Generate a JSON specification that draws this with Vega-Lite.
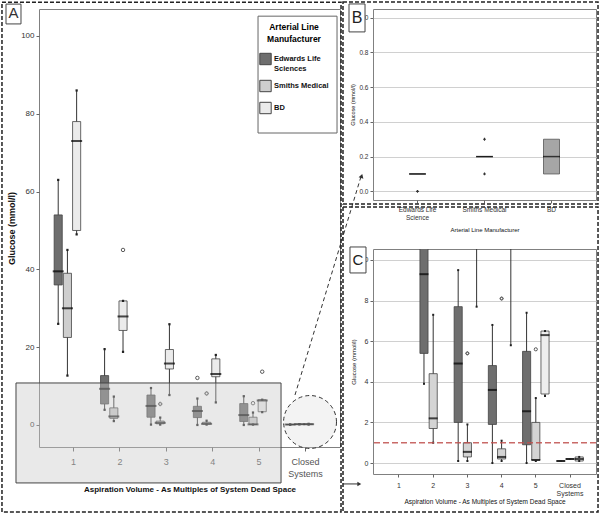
{
  "$schema": "https://vega.github.io/schema/vega-lite/v6.json",
  "padding": 0,
  "bounds": "flush",
  "spacing": 33,
  "config": {
    "font": "Liberation Sans",
    "view": {"stroke": "#808080"},
    "axis": {"gridColor": "#d0d0d0", "domain": false, "tickColor": "#666", "labelColor": "#333", "titleColor": "#111", "tickSize": 3},
    "legend": {"zindex": 1}
  },
  "resolve": {"scale": {"fill": "independent", "shape": "independent"}, "legend": {"fill": "independent"}},
  "datasets": {
    "boxes": [
      {"vol": "1", "mfr": "Edwards Life Sciences", "lo": 26, "q1": 36, "med": 39.5, "q3": 54, "hi": 63},
      {"vol": "1", "mfr": "Smiths Medical", "lo": 12.7, "q1": 22.5, "med": 30, "q3": 39, "hi": 45},
      {"vol": "1", "mfr": "BD", "lo": 49, "q1": 50, "med": 73, "q3": 78, "hi": 86},
      {"vol": "2", "mfr": "Edwards Life Sciences", "lo": 3.9, "q1": 5.4, "med": 9.3, "q3": 12.7, "hi": 19.5},
      {"vol": "2", "mfr": "Smiths Medical", "lo": 1.0, "q1": 1.7, "med": 2.2, "q3": 4.4, "hi": 7.3},
      {"vol": "2", "mfr": "BD", "lo": 18.8, "q1": 24.3, "med": 27.9, "q3": 31.9, "hi": 31.9},
      {"vol": "3", "mfr": "Edwards Life Sciences", "lo": 0.1, "q1": 2.0, "med": 4.9, "q3": 7.7, "hi": 9.5},
      {"vol": "3", "mfr": "Smiths Medical", "lo": 0.1, "q1": 0.3, "med": 0.55, "q3": 1.0, "hi": 1.9},
      {"vol": "3", "mfr": "BD", "lo": 7.7, "q1": 14.4, "med": 15.8, "q3": 19.4, "hi": 25.9},
      {"vol": "4", "mfr": "Edwards Life Sciences", "lo": 0.0, "q1": 1.9, "med": 3.6, "q3": 4.8, "hi": 6.8},
      {"vol": "4", "mfr": "Smiths Medical", "lo": 0.1, "q1": 0.2, "med": 0.3, "q3": 0.7, "hi": 1.1},
      {"vol": "4", "mfr": "BD", "lo": 5.8, "q1": 12.4, "med": 13.1, "q3": 17.0, "hi": 18.0},
      {"vol": "5", "mfr": "Edwards Life Sciences", "lo": 0.0, "q1": 0.9, "med": 2.55, "q3": 5.5, "hi": 7.4},
      {"vol": "5", "mfr": "Smiths Medical", "lo": 0.1, "q1": 0.15, "med": 0.15, "q3": 2.0, "hi": 3.2},
      {"vol": "5", "mfr": "BD", "lo": 3.3, "q1": 3.4, "med": 6.3, "q3": 6.5, "hi": 6.5},
      {"vol": "Closed Systems", "mfr": "Edwards Life Sciences", "lo": 0.1, "q1": 0.1, "med": 0.1, "q3": 0.1, "hi": 0.1},
      {"vol": "Closed Systems", "mfr": "Smiths Medical", "lo": 0.2, "q1": 0.2, "med": 0.2, "q3": 0.2, "hi": 0.2},
      {"vol": "Closed Systems", "mfr": "BD", "lo": 0.1, "q1": 0.1, "med": 0.2, "q3": 0.3, "hi": 0.3}
    ],
    "outliers": [
      {"vol": "2", "mfr": "BD", "v": 45, "kind": "outlier"},
      {"vol": "3", "mfr": "Smiths Medical", "v": 5.4, "kind": "extreme"},
      {"vol": "4", "mfr": "Edwards Life Sciences", "v": 12.1, "kind": "outlier"},
      {"vol": "4", "mfr": "Smiths Medical", "v": 8.1, "kind": "extreme"},
      {"vol": "5", "mfr": "Smiths Medical", "v": 5.6, "kind": "outlier"},
      {"vol": "5", "mfr": "BD", "v": 13.7, "kind": "outlier"}
    ],
    "closedB": [
      {"mfr": "Edwards Life Science", "q1": 0.1, "med": 0.1, "q3": 0.1},
      {"mfr": "Smiths Medical", "q1": 0.2, "med": 0.2, "q3": 0.2},
      {"mfr": "BD", "q1": 0.1, "med": 0.2, "q3": 0.3}
    ],
    "outB": [
      {"mfr": "Edwards Life Science", "v": 0.0},
      {"mfr": "Smiths Medical", "v": 0.3},
      {"mfr": "Smiths Medical", "v": 0.1}
    ]
  },
  "hconcat": [
    {
      "width": 301,
      "height": 438,
      "resolve": {"scale": {"x": "independent"}, "axis": {"x": "independent", "y": "independent"}},
      "layer": [
        {
          "data": {"values": [{}]},
          "layer": [
            {
              "mark": {"type": "rect", "fill": "#ffffff", "stroke": "#666666", "strokeWidth": 1},
              "encoding": {
                "x": {"datum": 4.977, "type": "quantitative", "scale": {"domain": [0.256, 6.744], "nice": false, "zero": false}, "axis": null},
                "x2": {"datum": 6.68},
                "y": {"datum": 105.1, "type": "quantitative", "scale": {"domain": [-5.66, 106.94], "nice": false, "zero": false}, "axis": null},
                "y2": {"datum": 75.06}
              }
            }
          ]
        },
        {
          "data": {"name": "boxes"},
          "encoding": {
            "x": {
              "field": "vol", "type": "nominal",
              "scale": {"domain": ["1", "2", "3", "4", "5", "Closed Systems"], "paddingInner": 0, "paddingOuter": 0.244},
              "title": "Aspiration Volume - As Multiples of System Dead Space",
              "axis": {"labelAngle": 0, "labelFontSize": 9, "labelColor": "#555", "labelPadding": 6, "titleFontSize": 8, "titleFontWeight": "bold", "titlePadding": 7, "tickSize": 4, "labelExpr": "datum.label == 'Closed Systems' ? ['Closed', 'Systems'] : datum.label", "labelLineHeight": 12}
            },
            "xOffset": {"field": "mfr", "type": "nominal", "scale": {"domain": ["Edwards Life Sciences", "Smiths Medical", "BD"], "paddingInner": 0.12, "paddingOuter": 0.416}}
          },
          "layer": [
            {
              "mark": {"type": "rule", "color": "#333333", "strokeWidth": 1},
              "encoding": {
                "y": {"field": "lo", "type": "quantitative", "title": "Glucose (mmol/l)", "scale": {"domain": [-5.66, 106.94], "nice": false, "zero": false},
                  "axis": {"values": [0, 20, 40, 60, 80, 100], "tickCount": 12, "labelOverlap": false, "labelFontSize": 8, "titleFontSize": 9, "titleFontWeight": "bold", "titlePadding": 4, "labelPadding": 2}},
                "y2": {"field": "hi"}
              }
            },
            {
              "mark": {"type": "bar", "stroke": "#444444", "strokeWidth": 0.8},
              "encoding": {
                "y": {"field": "q1", "type": "quantitative", "title": "Glucose (mmol/l)"},
                "y2": {"field": "q3"},
                "fill": {
                  "field": "mfr", "type": "nominal",
                  "scale": {"domain": ["Edwards Life Sciences", "Smiths Medical", "BD"], "range": ["#6e6e6e", "#cecece", "#ebebeb"]},
                  "legend": {"orient": "none", "legendX": 220, "legendY": 14, "title": ["Arterial Line", "Manufacturer"], "titleFontSize": 8.5, "titleFontWeight": "bold", "titleAnchor": "middle", "titleAlign": "center", "titlePadding": 9, "titleLineHeight": 12, "labelFontSize": 7.5, "labelFontWeight": "bold", "labelColor": "#111", "symbolType": "square", "symbolSize": 130, "symbolStrokeColor": "#444", "symbolStrokeWidth": 1, "rowPadding": 5, "padding": 0, "labelOffset": 2, "labelLimit": 100, "labelExpr": "datum.label == 'Edwards Life Sciences' ? ['Edwards Life', 'Sciences'] : datum.label"}
                }
              }
            },
            {
              "mark": {"type": "tick", "color": "#000000", "thickness": 2, "size": 11},
              "encoding": {"y": {"field": "med", "type": "quantitative", "title": "Glucose (mmol/l)"}}
            },
            {
              "mark": {"type": "point", "shape": "square", "filled": true, "size": 5, "color": "#222222", "opacity": 1},
              "encoding": {"y": {"field": "lo", "type": "quantitative", "title": "Glucose (mmol/l)"}}
            },
            {
              "mark": {"type": "point", "shape": "square", "filled": true, "size": 5, "color": "#222222", "opacity": 1},
              "encoding": {"y": {"field": "hi", "type": "quantitative", "title": "Glucose (mmol/l)"}}
            },
            {
              "data": {"name": "outliers"},
              "mark": {"type": "point", "size": 12, "strokeWidth": 0.8, "color": "#333333", "opacity": 1},
              "encoding": {
                "y": {"field": "v", "type": "quantitative", "title": "Glucose (mmol/l)"},
                "shape": {"field": "kind", "type": "nominal", "scale": {"domain": ["outlier", "extreme"], "range": ["circle", "cross"]}, "legend": null}
              }
            }
          ]
        },
        {
          "data": {"values": [{}]},
          "layer": [
            {
              "mark": {"type": "rect", "fill": "#c8c8c8", "fillOpacity": 0.4, "stroke": "#444444", "strokeWidth": 1},
              "encoding": {
                "x": {"datum": -0.24, "type": "quantitative", "scale": {"domain": [0.256, 6.744], "nice": false, "zero": false}, "axis": null},
                "x2": {"datum": 5.473},
                "y": {"datum": 10.8, "type": "quantitative", "scale": {"domain": [-5.66, 106.94], "nice": false, "zero": false}, "axis": null},
                "y2": {"datum": -14.9}
              }
            },
            {
              "mark": {"type": "point", "shape": "circle", "size": 2800, "fill": "#d8d8d8", "fillOpacity": 0.3, "stroke": "#333333", "strokeWidth": 1, "strokeDash": [4, 3], "opacity": 1},
              "encoding": {
                "x": {"datum": 6.098, "type": "quantitative", "axis": null},
                "y": {"datum": 0.77, "type": "quantitative", "axis": null}
              }
            },
            {
              "mark": {"type": "rule", "color": "#333333", "strokeWidth": 1, "strokeDash": [4, 3]},
              "encoding": {
                "x": {"datum": 5.774, "type": "quantitative", "axis": null},
                "x2": {"datum": 7.2},
                "y": {"datum": 7.71, "type": "quantitative", "axis": null},
                "y2": {"datum": 64.0}
              }
            },
            {
              "mark": {"type": "point", "shape": "triangle-up", "size": 25, "filled": true, "color": "#333333", "angle": 17, "opacity": 1},
              "encoding": {
                "x": {"datum": 7.21, "type": "quantitative", "axis": null},
                "y": {"datum": 64.0, "type": "quantitative", "axis": null}
              }
            },
            {
              "mark": {"type": "rect", "fill": null, "stroke": "#222222", "strokeWidth": 1.5, "strokeDash": [4, 2]},
              "encoding": {
                "x": {"datum": -0.542, "type": "quantitative", "axis": null},
                "x2": {"datum": 6.766},
                "y": {"datum": 108.7, "type": "quantitative", "axis": null},
                "y2": {"datum": -22.37}
              }
            },
            {
              "mark": {"type": "rect", "fill": "#ffffff", "stroke": "#444444", "strokeWidth": 1},
              "encoding": {
                "x": {"datum": -0.455, "type": "quantitative", "axis": null},
                "x2": {"datum": -0.132},
                "y": {"datum": 108.2, "type": "quantitative", "axis": null},
                "y2": {"datum": 103.1}
              }
            },
            {
              "mark": {"type": "text", "text": "A", "fontSize": 15, "color": "#333333"},
              "encoding": {
                "x": {"datum": -0.294, "type": "quantitative", "axis": null},
                "y": {"datum": 105.8, "type": "quantitative", "axis": null}
              }
            }
          ]
        }
      ]
    },
    {
      "vconcat": [
        {
          "width": 223,
          "height": 191,
          "resolve": {"scale": {"x": "independent"}, "axis": {"x": "independent", "y": "independent"}},
          "layer": [
            {
              "encoding": {
                "x": {
                  "field": "mfr", "type": "nominal",
                  "scale": {"domain": ["Edwards Life Science", "Smiths Medical", "BD"], "paddingInner": 0, "paddingOuter": 0.164},
                  "title": "Arterial Line Manufacturer",
                  "axis": {"labelAngle": 0, "labelFontSize": 6.5, "labelColor": "#333", "labelPadding": 3, "titleFontSize": 6, "titleFontWeight": "normal", "titlePadding": 6, "labelExpr": "datum.label == 'Edwards Life Science' ? ['Edwards Life', 'Science'] : datum.label", "labelLineHeight": 8}
                }
              },
              "layer": [
                {
                  "data": {"name": "closedB"},
                  "mark": {"type": "bar", "size": 16, "stroke": "#555555", "strokeWidth": 0.8},
                  "encoding": {
                    "y": {"field": "q1", "type": "quantitative", "title": "Glucose (mmol/l)", "scale": {"domain": [-0.05, 1.05], "nice": false, "zero": false},
                      "axis": {"values": [0, 0.2, 0.4, 0.6, 0.8, 1.0], "tickCount": 12, "format": ".1f", "labelOverlap": false, "labelFontSize": 6.5, "titleFontSize": 5.5, "titleFontWeight": "normal", "titlePadding": 3, "labelPadding": 2}},
                    "y2": {"field": "q3"},
                    "fill": {"field": "mfr", "type": "nominal", "scale": {"domain": ["Edwards Life Science", "Smiths Medical", "BD"], "range": ["#6e6e6e", "#cecece", "#a6a6a6"]}, "legend": null}
                  }
                },
                {
                  "data": {"name": "closedB"},
                  "mark": {"type": "tick", "color": "#000000", "thickness": 1.5, "size": 17},
                  "encoding": {"y": {"field": "med", "type": "quantitative", "title": "Glucose (mmol/l)"}}
                },
                {
                  "data": {"name": "outB"},
                  "mark": {"type": "point", "shape": "cross", "filled": true, "size": 8, "color": "#333333", "opacity": 1},
                  "encoding": {"y": {"field": "v", "type": "quantitative", "title": "Glucose (mmol/l)"}}
                }
              ]
            },
            {
              "data": {"values": [{}]},
              "layer": [
                {
                  "mark": {"type": "rect", "fill": null, "stroke": "#222222", "strokeWidth": 1.5, "strokeDash": [4, 2]},
                  "encoding": {
                    "x": {"datum": -0.112, "type": "quantitative", "scale": {"domain": [0.336, 3.664], "nice": false, "zero": false}, "axis": null},
                    "x2": {"datum": 3.694},
                    "y": {"datum": 1.09, "type": "quantitative", "scale": {"domain": [-0.05, 1.05], "nice": false, "zero": false}, "axis": null},
                    "y2": {"datum": -0.073}
                  }
                },
                {
                  "mark": {"type": "rect", "fill": "#ffffff", "stroke": "#444444", "strokeWidth": 1},
                  "encoding": {
                    "x": {"datum": -0.022, "type": "quantitative", "axis": null},
                    "x2": {"datum": 0.217},
                    "y": {"datum": 1.079, "type": "quantitative", "axis": null},
                    "y2": {"datum": 0.918}
                  }
                },
                {
                  "mark": {"type": "text", "text": "B", "fontSize": 16, "color": "#222222"},
                  "encoding": {
                    "x": {"datum": 0.097, "type": "quantitative", "axis": null},
                    "y": {"datum": 0.998, "type": "quantitative", "axis": null}
                  }
                }
              ]
            }
          ]
        },
        {
          "width": 223,
          "height": 225,
          "resolve": {"scale": {"x": "independent"}, "axis": {"x": "independent", "y": "independent"}},
          "layer": [
            {
              "data": {"name": "boxes"},
              "encoding": {
                "x": {
                  "field": "vol", "type": "nominal",
                  "scale": {"domain": ["1", "2", "3", "4", "5", "Closed Systems"], "paddingInner": 0, "paddingOuter": 0.26},
                  "title": "Aspiration Volume - As Multiples of System Dead Space",
                  "axis": {"labelAngle": 0, "labelFontSize": 7, "labelColor": "#333", "labelPadding": 4, "titleFontSize": 6.5, "titleFontWeight": "normal", "titlePadding": 2, "labelExpr": "datum.label == 'Closed Systems' ? ['Closed', 'Systems'] : datum.label", "labelLineHeight": 8}
                },
                "xOffset": {"field": "mfr", "type": "nominal", "scale": {"domain": ["Edwards Life Sciences", "Smiths Medical", "BD"], "range": [0, 34.2], "paddingInner": 0.085, "paddingOuter": 0.38}}
              },
              "layer": [
                {
                  "mark": {"type": "rule", "color": "#333333", "strokeWidth": 1, "clip": true},
                  "encoding": {
                    "y": {"field": "lo", "type": "quantitative", "title": "Glucose (mmol/l)", "scale": {"domain": [-0.54, 10.54], "nice": false, "zero": false},
                      "axis": {"values": [0, 2, 4, 6, 8, 10], "tickCount": 12, "labelOverlap": false, "labelFontSize": 7, "titleFontSize": 6, "titleFontWeight": "normal", "titlePadding": 4, "labelPadding": 2}},
                    "y2": {"field": "hi"}
                  }
                },
                {
                  "mark": {"type": "bar", "stroke": "#444444", "strokeWidth": 0.8, "clip": true},
                  "encoding": {
                    "y": {"field": "q1", "type": "quantitative", "title": "Glucose (mmol/l)"},
                    "y2": {"field": "q3"},
                    "fill": {"field": "mfr", "type": "nominal", "scale": {"domain": ["Edwards Life Sciences", "Smiths Medical", "BD"], "range": ["#6e6e6e", "#d4d4d4", "#eeeeee"]}, "legend": null}
                  }
                },
                {
                  "mark": {"type": "tick", "color": "#000000", "thickness": 2, "size": 9, "clip": true},
                  "encoding": {"y": {"field": "med", "type": "quantitative", "title": "Glucose (mmol/l)"}}
                },
                {
                  "mark": {"type": "point", "shape": "square", "filled": true, "size": 4, "color": "#222222", "opacity": 1, "clip": true},
                  "encoding": {"y": {"field": "lo", "type": "quantitative", "title": "Glucose (mmol/l)"}}
                },
                {
                  "mark": {"type": "point", "shape": "square", "filled": true, "size": 4, "color": "#222222", "opacity": 1, "clip": true},
                  "encoding": {"y": {"field": "hi", "type": "quantitative", "title": "Glucose (mmol/l)"}}
                },
                {
                  "data": {"name": "outliers"},
                  "mark": {"type": "point", "size": 10, "strokeWidth": 0.8, "color": "#333333", "opacity": 1, "clip": true},
                  "encoding": {
                    "y": {"field": "v", "type": "quantitative", "title": "Glucose (mmol/l)"},
                    "shape": {"field": "kind", "type": "nominal", "scale": {"domain": ["outlier", "extreme"], "range": ["circle", "cross"]}, "legend": null}
                  }
                }
              ]
            },
            {
              "data": {"values": [{}]},
              "layer": [
                {
                  "mark": {"type": "rule", "color": "#c0504d", "strokeWidth": 1.5, "strokeDash": [6, 3], "opacity": 0.85},
                  "encoding": {
                    "y": {"datum": 1, "type": "quantitative", "scale": {"domain": [-0.54, 10.54], "nice": false, "zero": false}, "axis": null}
                  }
                },
                {
                  "mark": {"type": "rect", "fill": null, "stroke": "#222222", "strokeWidth": 1.5, "strokeDash": [4, 2]},
                  "encoding": {
                    "x": {"datum": -0.637, "type": "quantitative", "scale": {"domain": [0.24, 6.76], "nice": false, "zero": false}, "axis": null},
                    "x2": {"datum": 6.819},
                    "y": {"datum": 12.61, "type": "quantitative", "axis": null},
                    "y2": {"datum": -2.41}
                  }
                },
                {
                  "mark": {"type": "rule", "color": "#333333", "strokeWidth": 1},
                  "encoding": {
                    "x": {"datum": -0.637, "type": "quantitative", "axis": null},
                    "x2": {"datum": -0.16},
                    "y": {"datum": -1.03, "type": "quantitative", "axis": null}
                  }
                },
                {
                  "mark": {"type": "point", "shape": "triangle-right", "size": 20, "filled": true, "color": "#333333", "opacity": 1},
                  "encoding": {
                    "x": {"datum": -0.16, "type": "quantitative", "axis": null},
                    "y": {"datum": -1.03, "type": "quantitative", "axis": null}
                  }
                },
                {
                  "mark": {"type": "rect", "fill": "#ffffff", "stroke": "#444444", "strokeWidth": 1},
                  "encoding": {
                    "x": {"datum": -0.433, "type": "quantitative", "axis": null},
                    "x2": {"datum": 0.035},
                    "y": {"datum": 10.64, "type": "quantitative", "axis": null},
                    "y2": {"datum": 9.36}
                  }
                },
                {
                  "mark": {"type": "text", "text": "C", "fontSize": 15, "color": "#222222"},
                  "encoding": {
                    "x": {"datum": -0.199, "type": "quantitative", "axis": null},
                    "y": {"datum": 10.0, "type": "quantitative", "axis": null}
                  }
                }
              ]
            }
          ]
        }
      ],
      "spacing": 49,
      "bounds": "flush",
      "resolve": {"scale": {"fill": "independent", "shape": "independent"}, "legend": {"fill": "independent"}}
    }
  ]
}
